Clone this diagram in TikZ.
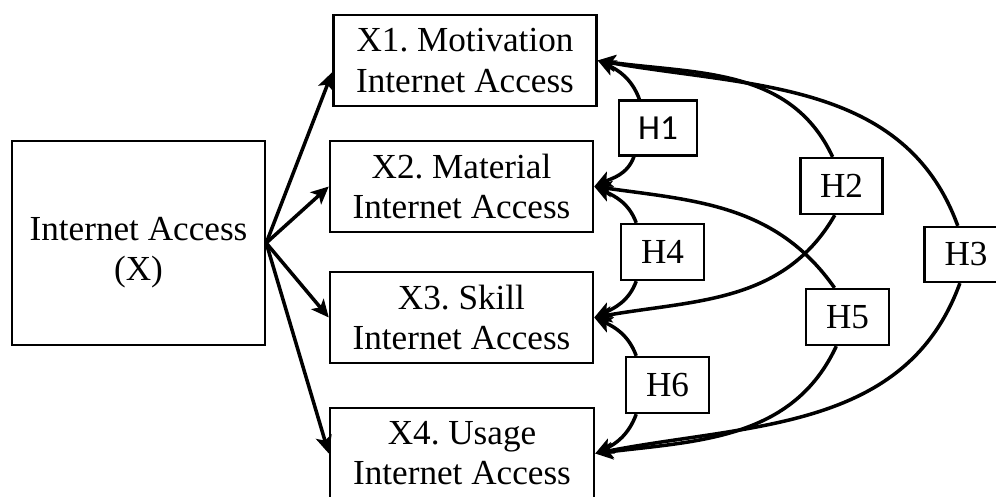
\documentclass[tikz,border=0pt]{standalone}
\usepackage{fontspec}
\setmainfont{Liberation Serif}
\newfontfamily\hsans{Carlito}
\usepackage{tikz}
\usetikzlibrary{positioning}
\usetikzlibrary{arrows.meta}
\frenchspacing

\begin{document}
\begin{tikzpicture}[x=0.01cm, y=0.01cm,
  box/.style={draw, line width=0.65pt, minimum width=2.63cm, minimum height=0.91cm, align=center, inner sep=0pt, font=\fontsize{10}{11.4}\selectfont},
  hbox/.style={draw, line width=0.65pt, minimum width=0.82cm, minimum height=0.56cm, inner sep=0pt, font=\fontsize{10}{11.4}\selectfont},
  arr/.style={-{Stealth[length=5pt,width=4.6pt,inset=1.2pt]}, line width=1pt}]

\useasboundingbox (0,0) rectangle (996,496);

% source
\node[box, minimum width=2.53cm, minimum height=2.04cm] (IA) at (138.5,253) {};
\node[align=center, inner sep=0pt, font=\fontsize{10}{11.4}\selectfont] (IAtext) at (138.5,243) {Internet Access\\(X)};

% dimensions
\node[box] (X1) at (465,435.5) {X1. Motivation\\Internet Access};
\node[box] (X2) at (461.5,309.5) {X2. Material\\Internet Access};
\node[box] (X3) at (461.5,178.5) {X3. Skill\\Internet Access};
\node[box, minimum width=2.64cm] (X4) at (462,42.5) {X4. Usage\\Internet Access};

\draw[arr] (IA.east) -- (X1.185);
\draw[arr] (IA.east) -- (X2.west);
\draw[arr] (IA.east) -- (X3.west);
\draw[arr] (IA.east) -- (X4.west);

% hypotheses
\node[hbox, minimum width=0.78cm, minimum height=0.55cm] (H1) at (658,368) {\hsans H1};
\node[hbox] (H2) at (841.5,310) {H2};
\node[hbox, minimum width=0.83cm, minimum height=0.55cm] (H3) at (966,241.5) {H3};
\node[hbox, minimum width=0.83cm] (H4) at (662.5,244) {H4};
\node[hbox, minimum width=0.83cm] (H5) at (847.5,179) {H5};
\node[hbox, minimum width=0.83cm] (H6) at (667.5,111) {H6};

\draw[arr] (H1.123) to[out=110,in=-25] (X1.east);
\draw[arr] (H1.230) to[out=-110,in=25] (X2.east);

\draw[arr] (H2.107) to[out=115,in=-8] (X1.east);
\draw[arr] (H2.257) to[out=-120,in=10] (X3.east);

\draw[arr] (H3.106) to[out=110,in=-10] (X1.east);
\draw[arr] (H3.258) to[out=-110,in=11] (X4.east);

\draw[arr] (H4.132) to[out=110,in=-25] (X2.east);
\draw[arr] (H4.228) to[out=-110,in=25] (X3.east);

\draw[arr] (H5.114) to[out=125,in=-8] (X2.east);
\draw[arr] (H5.249) to[out=-115,in=7] (X4.east);

\draw[arr] (H6.137) to[out=110,in=-25] (X3.east);
\draw[arr] (H6.223) to[out=-110,in=25] (X4.east);

\end{tikzpicture}
\end{document}
